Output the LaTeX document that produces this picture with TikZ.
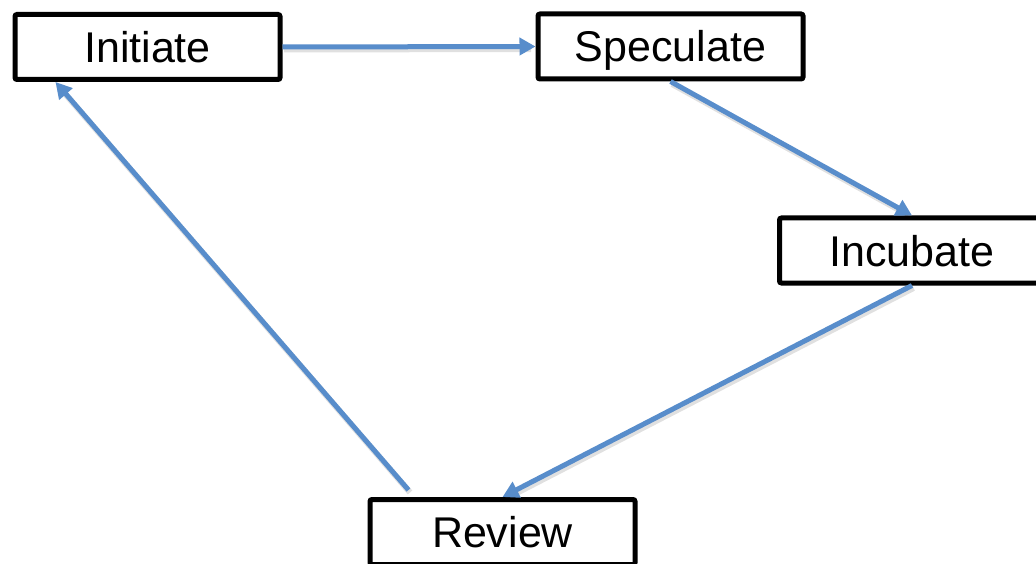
\documentclass[tikz,border=0pt]{standalone}
\usepackage{fontspec}
\setmainfont{Liberation Sans}
\usetikzlibrary{arrows.meta,calc}
\definecolor{flowblue}{RGB}{88,141,203}
\tikzset{
  stage/.style={draw=black, line width=5pt, rounded corners=2pt, fill=white,
    minimum width=265pt, minimum height=65pt, inner sep=0pt,
    text height=31pt, text depth=0pt,
    font=\fontsize{43}{50}\selectfont},
  flow/.style={draw=flowblue, line width=5pt,
    -{Triangle[length=16pt,width=17pt]}},
  flowshadow/.style={draw=black, opacity=0.12, line width=6pt,
    shorten >=6pt}
}
\begin{document}
\begin{tikzpicture}[x=1pt,y=-1pt]
  \useasboundingbox (0,0) rectangle (1036,564);
  \clip (0,0) rectangle (1036,564);
  \fill[white] (0,0) rectangle (1036,564);

  % the four stages of the cycle
  \node[stage] (init) at (147.5,47)  {Initiate};
  \node[stage] (spec) at (670.5,46.5) {Speculate};
  \node[stage] (inc)  at (912,250.5)  {Incubate};
  \node[stage] (rev)  at (502.5,532)  {Review};

  % free ends of the return connector
  \coordinate (revout) at ($(rev.north west)+(41,-7)$);
  \coordinate (initin) at ($(init.south west)+(43,0)$);

  % soft shadows under the connectors
  \begin{scope}[transform canvas={shift={(1.5pt,-2.5pt)}}]
    \draw[flowshadow] (init.east) -- (spec.west);
    \draw[flowshadow] (spec.south) -- (inc.north);
    \draw[flowshadow] (inc.south) -- (rev.north);
    \draw[flowshadow] (revout) -- (initin);
  \end{scope}

  % connectors
  \draw[flow] (init.east) -- (spec.west);
  \draw[flow] (spec.south) -- (inc.north);
  \draw[flow] (inc.south) -- (rev.north);
  \draw[flow] (revout) -- (initin);
\end{tikzpicture}
\end{document}
